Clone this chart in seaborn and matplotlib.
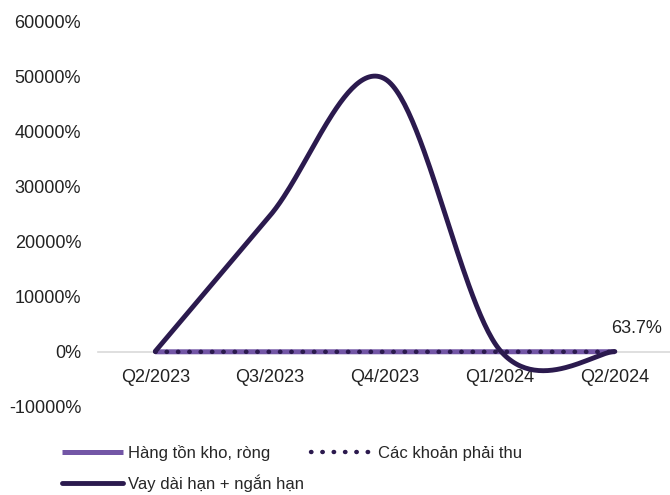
import numpy as np
import pandas as pd
import seaborn as sns
import matplotlib
matplotlib.use("Agg")
import matplotlib.pyplot as plt

quarters = ["Q2/2023", "Q3/2023", "Q4/2023", "Q1/2024", "Q2/2024"]
hang_ton_kho = [12.0, 18.0, 15.0, 22.0, 25.0]
khoan_phai_thu = [6.0, 10.0, 8.0, 14.0, 12.0]
vay = [100.0, 24800.0, 49600.0, 300.0, 63.7]

series_names = ["Hàng tồn kho, ròng", "Các khoản phải thu", "Vay dài hạn + ngắn hạn"]
c_light = "#7356a6"
c_dark = "#2b1a4e"
fs = 13

sns.set_style("white")
plt.rcParams["font.family"] = ["Liberation Sans", "DejaVu Sans"]


def smooth_curve(y, n=60):
    # Excel-like smoothed line: cubic Bezier with Catmull-Rom control points
    x = np.arange(len(y), dtype=float)
    y = np.asarray(y, dtype=float)
    xs, ys = [], []
    for i in range(len(y) - 1):
        i0 = max(i - 1, 0)
        i3 = min(i + 2, len(y) - 1)
        p0 = np.array([x[i], y[i]])
        p3 = np.array([x[i + 1], y[i + 1]])
        c1 = p0 + (np.array([x[i + 1], y[i + 1]]) - np.array([x[i0], y[i0]])) / 6
        c2 = p3 - (np.array([x[i3], y[i3]]) - np.array([x[i], y[i]])) / 6
        t = np.linspace(0, 1, n)[:, None]
        pts = (1 - t) ** 3 * p0 + 3 * (1 - t) ** 2 * t * c1 + 3 * (1 - t) * t ** 2 * c2 + t ** 3 * p3
        if i > 0:
            pts = pts[1:]
        xs.append(pts[:, 0])
        ys.append(pts[:, 1])
    return np.concatenate(xs), np.concatenate(ys)


df = pd.DataFrame({"idx": np.arange(len(quarters)),
                   "hang": hang_ton_kho, "thu": khoan_phai_thu})
sx, sy = smooth_curve(vay)
df_vay = pd.DataFrame({"x": sx, "y": sy})

fig = plt.figure(figsize=(6.7, 4.95), dpi=100)
ax = fig.add_axes([0.146, 0.178, 0.854, 0.778])

sns.lineplot(data=df, x="idx", y="hang", ax=ax, color=c_light, lw=3.6,
             solid_capstyle="butt", label=series_names[0])
sns.lineplot(data=df, x="idx", y="thu", ax=ax, color=c_dark, lw=3.2,
             linestyle=(0, (0.1, 2.45)), dash_capstyle="round", label=series_names[1])
sns.lineplot(data=df_vay, x="x", y="y", ax=ax, color=c_dark, lw=3.5,
             solid_capstyle="round", sort=False, label=series_names[2])

ax.annotate(f"{vay[-1]:.1f}%", xy=(4, vay[-1]), xytext=(-3, 13),
            textcoords="offset points", fontsize=fs, color="#222222")

ax.set_xlim(-0.5, 4.48)
ax.set_ylim(-10000, 60000)
ax.set_yticks(np.arange(-10000, 60001, 10000))
ax.set_yticklabels([f"{v}%" for v in range(-10000, 60001, 10000)])
ax.set_xticks(range(len(quarters)))
ax.set_xticklabels(quarters)
ax.set_xlabel("")
ax.set_ylabel("")
ax.tick_params(axis="both", length=0, labelsize=fs, colors="#222222")
ax.tick_params(axis="y", pad=12)
ax.tick_params(axis="x", pad=12)

for s in ["top", "right", "left"]:
    ax.spines[s].set_visible(False)
ax.spines["bottom"].set_position(("data", 0))
ax.spines["bottom"].set_color("#d9d9d9")
ax.spines["bottom"].set_linewidth(1.2)
ax.spines["bottom"].set_zorder(0)

handles, labels = ax.get_legend_handles_labels()
ax.get_legend().remove()
# column-major fill: reorder so rows read Hàng | Các, then Vay
order = [0, 2, 1]
fig.legend([handles[i] for i in order], [labels[i] for i in order],
           loc="upper left", bbox_to_anchor=(0.092, 0.102),
           ncol=2, frameon=False, fontsize=12, handlelength=3.7,
           handletextpad=0.3, columnspacing=0.4, labelspacing=0.85,
           borderaxespad=0, borderpad=0)

fig.savefig("out.png", dpi=100)
